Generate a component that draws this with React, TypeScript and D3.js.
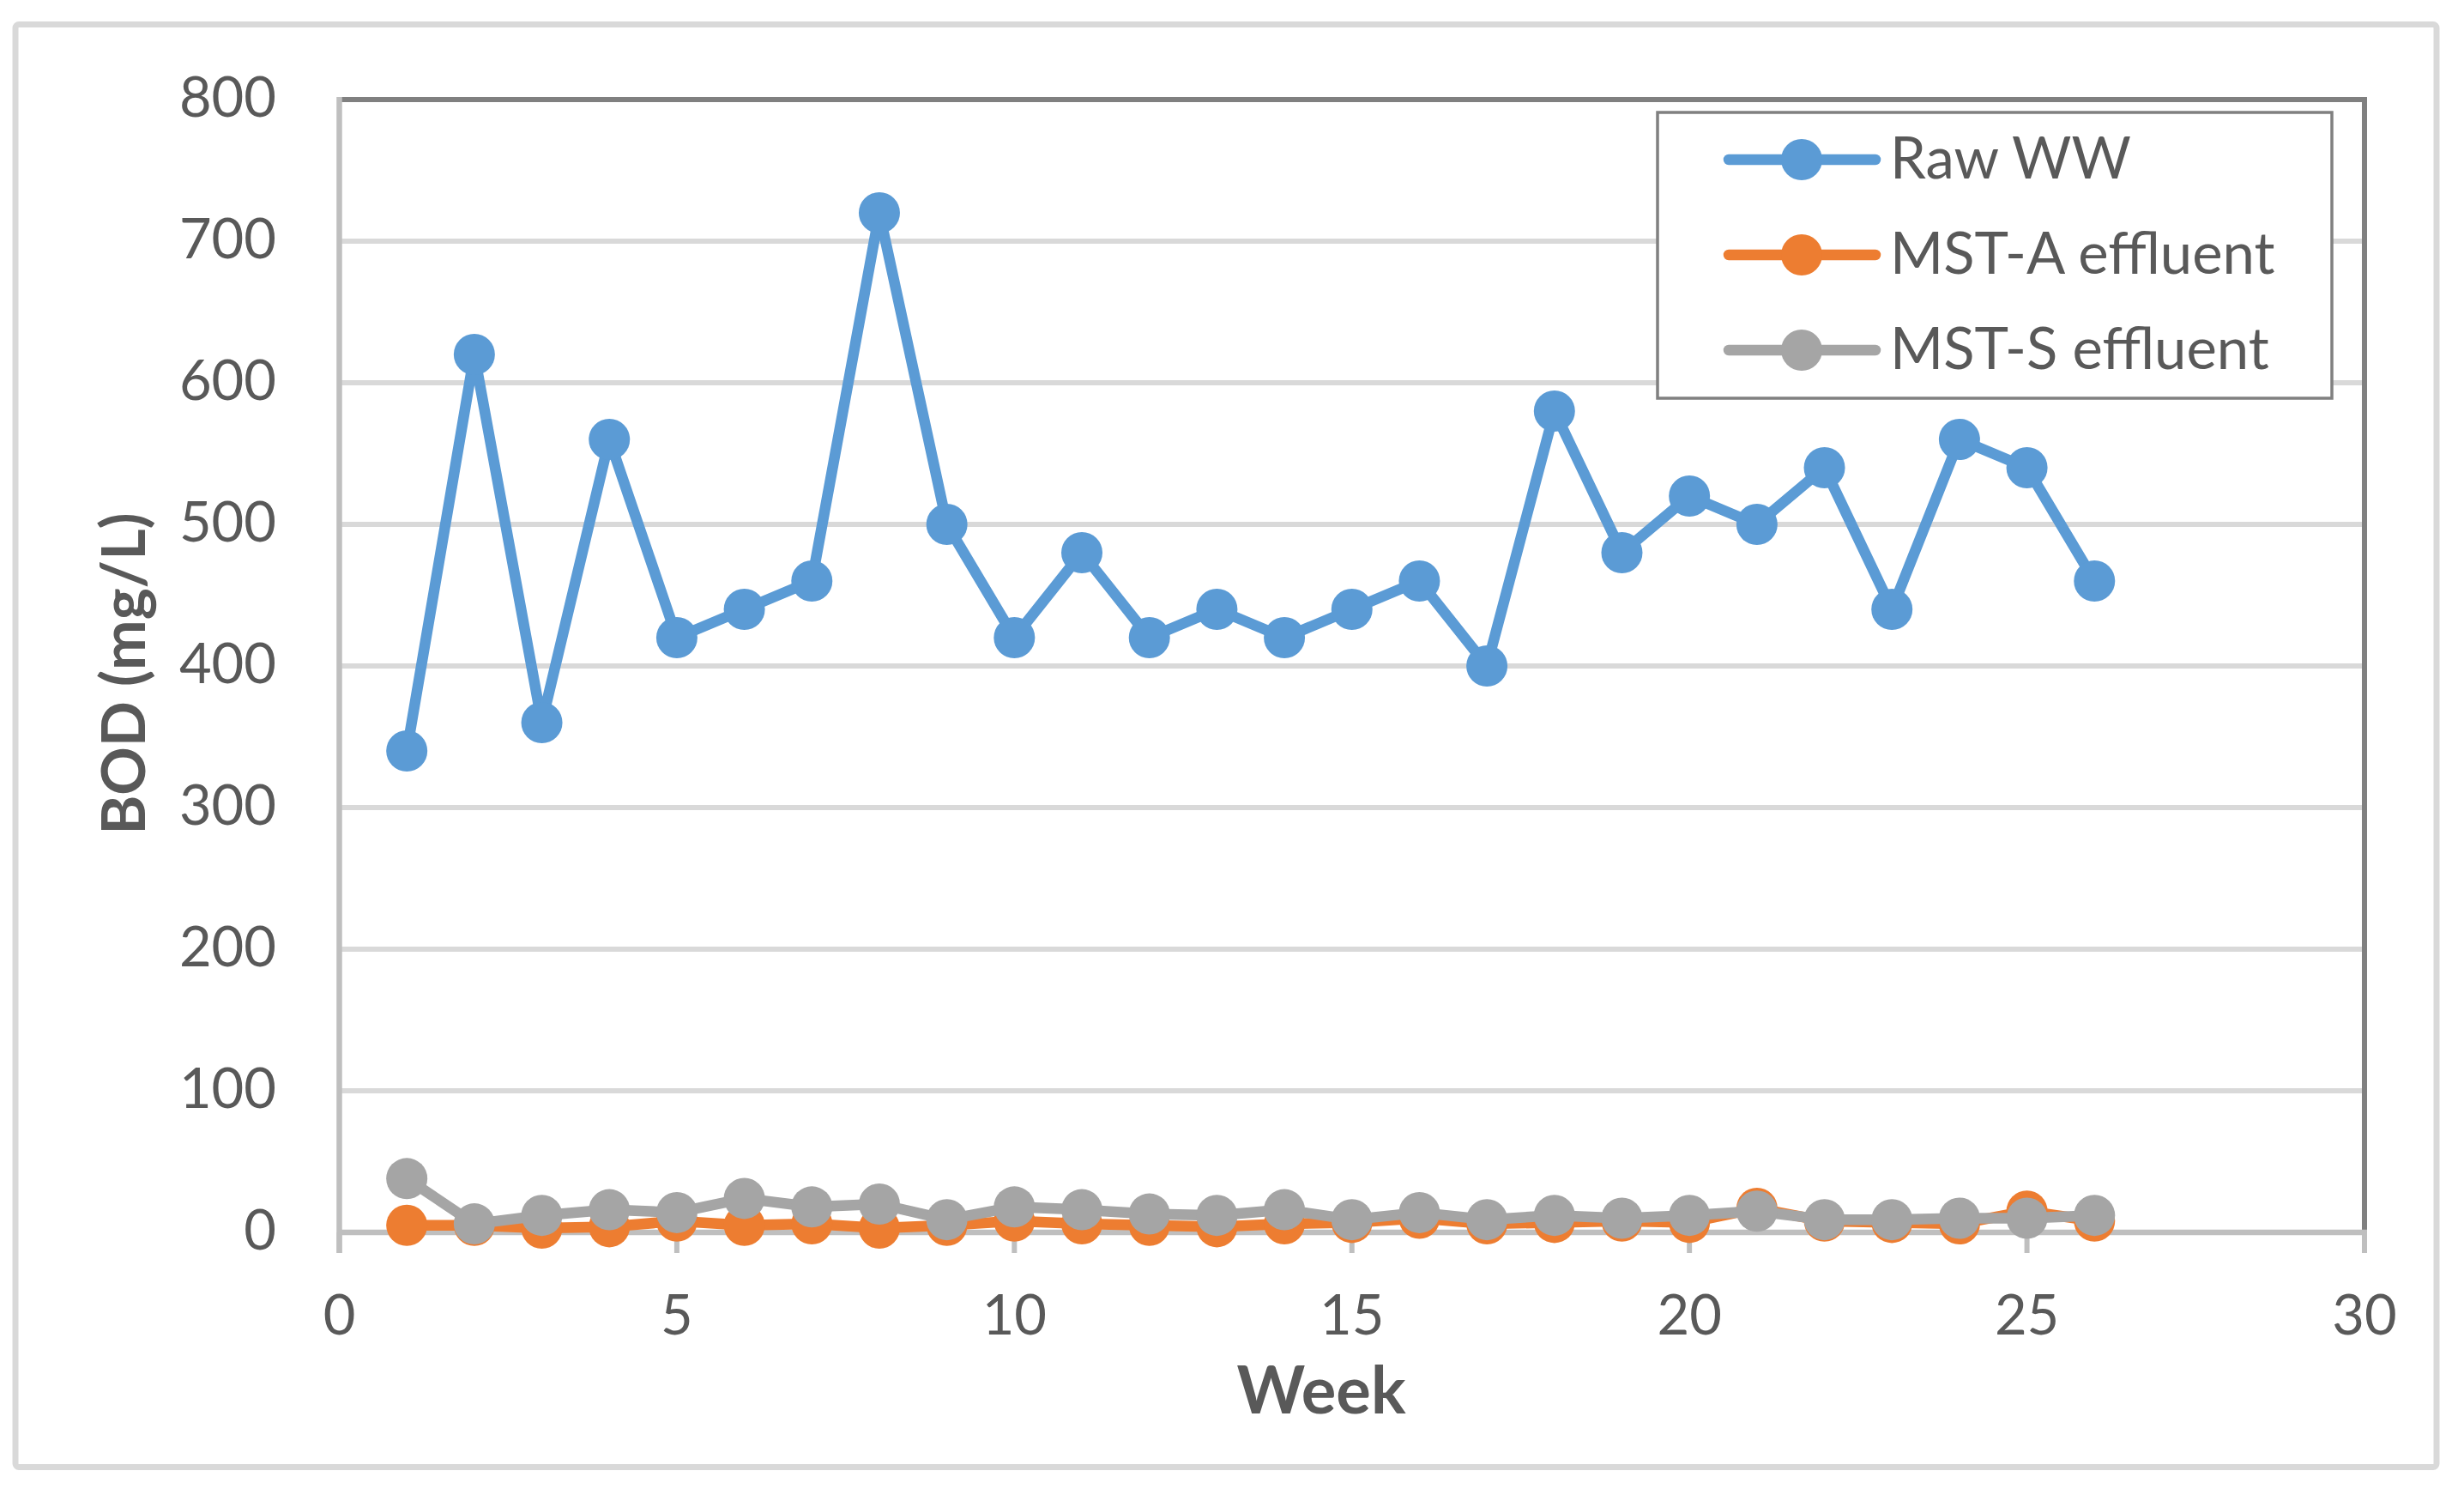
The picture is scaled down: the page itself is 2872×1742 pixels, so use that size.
import React from "react";
import * as d3 from "d3";

const weeks = [1,2,3,4,5,6,7,8,9,10,11,12,13,14,15,16,17,18,19,20,21,22,23,24,25,26];
const rawWW = [340,620,360,560,420,440,460,720,500,420,480,420,440,420,440,460,400,580,480,520,500,540,440,560,540,460];
const mstA = [5,5,3,4,8,5,6,3,5,8,6,5,4,6,7,10,6,7,8,7,17,8,7,6,15,8];
const mstS = [38,6,12,16,14,24,18,20,9,18,16,13,12,16,9,14,9,12,10,12,15,9,9,10,10,12];
const xTicks = [0,5,10,15,20,25,30];
const yTicks = [0,100,200,300,400,500,600,700,800];
const seriesNames = ["Raw WW", "MST-A effluent", "MST-S effluent"];
const seriesColors = ["#5B9BD5", "#ED7D31", "#A5A5A5"];

const W = 2872, H = 1742;
const x0 = 395.5, x1 = 2756, yTop = 116, yBot = 1436;
const FONT = "Lato, 'Open Sans', sans-serif";

export default function App() {
  const x = d3.scaleLinear().domain([0, 30]).range([x0, x1]);
  const y = d3.scaleLinear().domain([0, 800]).range([yBot, yTop]);
  const line = d3.line<number>().x((_, i) => x(weeks[i])).y(d => y(d));
  const all = [rawWW, mstA, mstS];

  return (
    <svg width={W} height={H} style={{ position: "absolute", left: 0, top: 0, background: "#fff" }}>
      <rect x={18} y={28.5} width={2822} height={1681} fill="#fff" stroke="#D9D9D9" strokeWidth={7} rx={4} />
      {/* gridlines */}
      {yTicks.filter(t => t > 0 && t < 800).map(t => (
        <line key={t} x1={x0} x2={x1} y1={y(t)} y2={y(t)} stroke="#D9D9D9" strokeWidth={6} />
      ))}
      {/* plot border top/right */}
      <line x1={x0} x2={x1 + 3} y1={yTop} y2={yTop} stroke="#808080" strokeWidth={6} />
      <line x1={x1} x2={x1} y1={yTop} y2={yBot} stroke="#808080" strokeWidth={6} />
      {/* axes */}
      <line x1={x0} x2={x0} y1={yTop - 3} y2={1460} stroke="#BFBFBF" strokeWidth={6.5} />
      <line x1={x0} x2={x1 + 3} y1={yBot} y2={yBot} stroke="#BFBFBF" strokeWidth={6.5} />
      {xTicks.map(t => (
        <line key={t} x1={x(t)} x2={x(t)} y1={yBot} y2={1460} stroke="#BFBFBF" strokeWidth={6} />
      ))}
      {/* tick labels */}
      {yTicks.map(t => (
        <text key={t} x={322} y={y(t) + 20} textAnchor="end" fontFamily={FONT} fontSize={65} fill="#595959">{t}</text>
      ))}
      {xTicks.map(t => (
        <text key={t} x={x(t)} y={1555} textAnchor="middle" fontFamily={FONT} fontSize={65} fill="#595959">{t}</text>
      ))}
      <text x={1540} y={1647} textAnchor="middle" fontFamily={FONT} fontWeight="bold" fontSize={76} fill="#595959">Week</text>
      <text transform={`translate(169,785) rotate(-90)`} textAnchor="middle" fontFamily={FONT} fontWeight="bold" fontSize={70} fill="#595959">BOD (mg/L)</text>
      {/* series */}
      {all.map((s, k) => (
        <g key={k}>
          <path d={line(s) || ""} fill="none" stroke={seriesColors[k]} strokeWidth={12.5} strokeLinejoin="round" strokeLinecap="round" />
          {s.map((v, i) => (
            <circle key={i} cx={x(weeks[i])} cy={y(v)} r={24} fill={seriesColors[k]} />
          ))}
        </g>
      ))}
      {/* legend */}
      <rect x={1932} y={131} width={786} height={333} fill="#fff" stroke="#808080" strokeWidth={3.5} />
      {seriesNames.map((n, k) => {
        const cy = 186 + k * 111;
        return (
          <g key={n}>
            <line x1={2015} x2={2186} y1={cy} y2={cy} stroke={seriesColors[k]} strokeWidth={12.5} strokeLinecap="round" />
            <circle cx={2100} cy={cy} r={24} fill={seriesColors[k]} />
            <text x={2203} y={cy + 22} fontFamily={FONT} fontSize={67} fill="#595959">{n}</text>
          </g>
        );
      })}
    </svg>
  );
}
